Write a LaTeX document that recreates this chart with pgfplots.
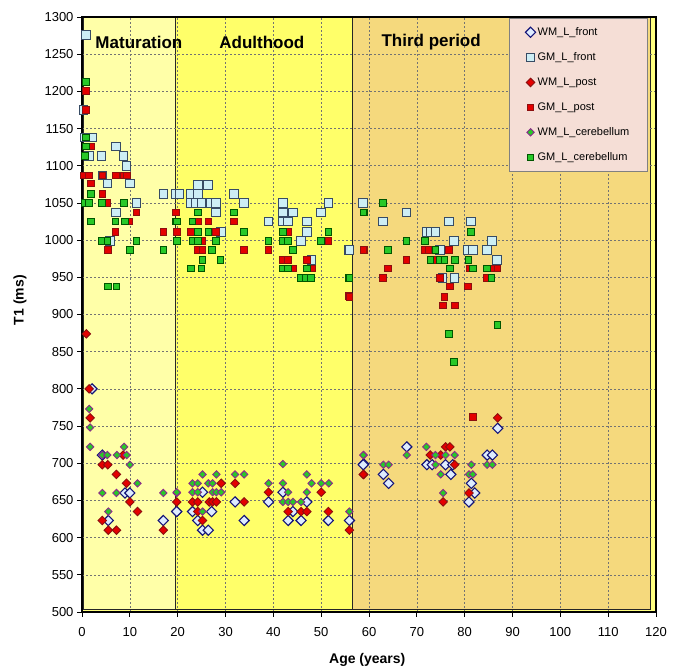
\documentclass[border=0pt]{standalone}
\usepackage{pgfplots}
\pgfplotsset{compat=1.18}
\usepackage{fontspec}
\setmainfont{Liberation Sans}
\definecolor{outerbg}{RGB}{255,255,128}
\definecolor{zoneA}{RGB}{255,255,168}
\definecolor{zoneB}{RGB}{255,255,105}
\definecolor{zoneC}{RGB}{245,217,125}
\definecolor{legpink}{RGB}{245,222,214}
\definecolor{wmfrontfill}{RGB}{222,236,255}
\definecolor{wmfrontedge}{RGB}{20,20,120}
\definecolor{gmfrontfill}{RGB}{205,238,245}
\definecolor{gmfrontedge}{RGB}{55,75,100}
\definecolor{redfill}{RGB}{228,0,0}
\definecolor{rededge}{RGB}{140,15,15}
\definecolor{greenfill}{RGB}{40,200,40}
\definecolor{greenedge}{RGB}{0,85,0}
\definecolor{purpleedge}{RGB}{140,40,140}
\begin{document}
\begin{tikzpicture}
\begin{axis}[name=ax, set layers=standard,
  scale only axis, width=574pt, height=595pt,
  xmin=0, xmax=120, ymin=500, ymax=1300,
  xtick distance=10, ytick distance=50,
  xtick pos=bottom, ytick pos=left,
  tick align=outside, major tick length=5pt,
  every tick/.style={black, line width=0.8pt},
  axis line style={black, line width=1.2pt},
  grid=major,
  major grid style={black!55, line width=0.6pt, dash pattern=on 2pt off 2pt},
  /pgf/number format/assume math mode=true,
  /pgf/number format/set thousands separator={},
  tick label style={font=\fontsize{13}{15}\selectfont},
  xticklabel style={yshift=-7pt},
  xlabel={Age (years)}, ylabel={T1 (ms)},
  every axis x label/.style={at={(axis description cs:0.497,-0.0807)}, anchor=center, font=\fontsize{14}{16}\selectfont\bfseries},
  every axis y label/.style={at={(axis description cs:-0.108,0.524)}, anchor=center, rotate=90, font=\fontsize{14}{16}\selectfont\bfseries},
  legend style={at={(0.744,0.998)}, anchor=north west, fill=legpink, draw=black!50, line width=0.8pt,
    font=\fontsize{11}{13}\selectfont, row sep=11.7pt, inner xsep=16pt, inner ysep=7pt},
  legend cell align=left,
  legend image code/.code={\draw[#1, mark repeat=1] plot coordinates {(0.25cm,0cm)};},
]
\begin{pgfonlayer}{axis background}
\fill[outerbg] (axis cs:0,500) rectangle (axis cs:120,1300);
\filldraw[fill=zoneA, draw=black!85, line width=1pt] (axis cs:0.3,504) rectangle (axis cs:19.6,1300);
\filldraw[fill=zoneB, draw=black!85, line width=1pt] (axis cs:19.6,504) rectangle (axis cs:56.5,1300);
\filldraw[fill=zoneC, draw=black!85, line width=1pt] (axis cs:56.5,504) rectangle (axis cs:118.8,1300);
\end{pgfonlayer}

% WM_L_front
\addplot[only marks, mark=square*, mark size=3.6pt, mark options={rotate=45, fill=wmfrontfill, draw=wmfrontedge, line width=1.1pt}] coordinates {
(2.1,800) (4.25,711) (9.0,660) (10,660) (19.8,635) (5.5,623) (17,623)
(25.2,661) (42,661) (32,648) (39,648) (47,648)
(19.8,635) (23.1,635) (27.1,635) (44.1,635)
(24.2,623) (33.9,623) (43.1,623) (45.8,623) (51.5,623) (55.9,623)
(25.2,610) (26.4,610) (58.9,699)
(86.9,747) (67.9,722) (84.7,711) (85.8,711) (58.8,698) (72.1,698) (73.2,698) (76,698) (77.5,698)
(63,685) (77.1,685) (64.1,673) (81.4,673) (82.1,660) (80.9,648)
};
\addlegendentry{WM\_L\_front}
% GM_L_front
\addplot[only marks, mark=square*, mark size=4.3pt, mark options={fill=gmfrontfill, draw=gmfrontedge, line width=1pt}] coordinates {
(0.8,1276) (0.3,1175) (0.5,1138) (2.1,1138) (7.05,1126) (1.5,1113) (4.1,1113) (8.7,1113) (9.3,1100)
(4.25,1087) (5.3,1076) (10,1076) (17,1062) (19.6,1062) (11.4,1050) (7.05,1037) (5.9,999)
(24.2,1074) (26.4,1074) (20.4,1062) (22.8,1062) (24.2,1062) (31.8,1062)
(22.8,1050) (23.8,1050) (25,1050) (27,1050) (28,1050) (33.9,1050) (42,1050) (51.5,1050)
(28,1037) (42,1037) (44.1,1037) (50,1037) (39,1025) (42,1025) (43.1,1025) (47,1025)
(29,1011) (47,1011) (45.8,999) (55.7,987) (48,973)
(58.8,1050) (67.8,1037) (62.9,1025) (76.7,1025) (81.3,1025) (72,1011) (72.9,1011) (73.9,1011)
(77.8,999) (85.7,999) (55.9,987) (74.8,987) (80.7,987) (81.7,987) (84.7,987) (86.8,973)
(75.4,949) (77.9,949)
};
\addlegendentry{GM\_L\_front}
% WM_L_post
\addplot[only marks, mark=square*, mark size=3.0pt, mark options={rotate=45, fill=redfill, draw=rededge, line width=0.9pt}] coordinates {
(0.9,874) (1.5,800) (1.7,761) (8.6,711) (4.25,698) (5.4,698) (7.2,685) (9.3,673) (10,648) (11.6,635)
(4.25,623) (5.5,610) (7.2,610) (17,610)
(29.1,673) (32,673) (39,661) (50,661) (19.8,648) (23.1,648) (24.2,648) (26.6,648) (27.3,648) (28.1,648)
(33.9,648) (24.2,635) (43.1,635) (45.8,635) (47,635) (51.5,635) (25.2,623) (55.9,610) (58.9,685)
(86.9,761) (76,722) (76.9,722) (72.8,711) (75,711) (77.9,698) (58.8,685) (80.9,660) (75.5,648)
};
\addlegendentry{WM\_L\_post}
% GM_L_post
\addplot[only marks, mark=square*, mark size=3.3pt, mark options={fill=redfill, draw=rededge, line width=0.8pt}] coordinates {
(0.8,1201) (0.8,1175) (2.0,1126) (0.4,1087) (1.5,1087) (4.25,1087) (7.05,1087) (8.8,1087) (9.35,1087)
(1.8,1076) (4.25,1062) (5.3,1050) (11.4,1037) (19.6,1037) (9.8,1025) (7,1011) (17,1011) (19.8,1011) (5.4,987)
(24.2,1025) (26.4,1025) (31.8,1025) (22.8,1011) (27,1011) (28,1011) (43.1,1011)
(25.2,999) (51.5,999) (24.2,987) (25.2,987) (33.9,987) (39,987) (58.9,987)
(42,973) (43.1,973) (47,973) (44.1,962) (48,962) (55.7,925)
(58.8,987) (71.7,987) (72.4,987) (76.7,987) (67.8,973) (73.9,973)
(63.9,962) (81,962) (85.9,962) (86.8,962) (62.9,949) (74.8,949) (84.6,949)
(76.9,938) (80.7,938) (55.9,924) (75.8,924) (75.4,912) (77.9,912) (81.7,762)
};
\addlegendentry{GM\_L\_post}
% WM_L_cerebellum
\addplot[only marks, mark=square*, mark size=2.6pt, mark options={rotate=45, fill=greenfill, draw=purpleedge, line width=0.9pt}] coordinates {
(1.5,773) (1.7,748) (1.7,722) (8.8,722) (4.25,711) (5.3,711) (7.3,711) (9.35,711) (10,698) (11.6,673)
(4.25,660) (7.2,660) (17,660) (19.8,660) (5.5,635)
(58.9,711) (42,699) (25.2,685) (28.1,685) (32,685) (33.9,685) (47,685)
(23.1,673) (24.2,673) (26.4,673) (27.3,673) (39,673) (42,673) (48,673) (50,673) (51.6,673)
(19.8,661) (23.1,661) (24.2,661) (27.3,661) (28.1,661) (29.1,661) (43.1,661) (47,661)
(42,648) (43.1,648) (44.1,648) (45.8,648) (25.2,635) (55.9,635)
(72,722) (58.8,711) (67.9,711) (73.9,711) (76,711) (77.9,711)
(63,698) (64.1,698) (73.9,698) (81.4,698) (84.7,698) (85.8,698)
(75,685) (80.9,685) (81.7,685) (75.5,660)
};
\addlegendentry{WM\_L\_cerebellum}
% GM_L_cerebellum
\addplot[only marks, mark=square*, mark size=3.3pt, mark options={fill=greenfill, draw=greenedge, line width=0.8pt}] coordinates {
(0.8,1213) (0.8,1138) (0.8,1126) (0.6,1113) (1.8,1062) (0.5,1050) (1.5,1050) (4.2,1050) (8.8,1050)
(1.8,1025) (7,1025) (9,1025) (19.6,1025) (4.1,999) (5.3,999) (11.4,999) (19.8,999) (10,987) (17,987)
(5.4,938) (7.2,938)
(24.2,1037) (31.8,1037) (58.9,1037) (19.8,1025) (23.1,1025)
(24.2,1011) (26.4,1011) (33.9,1011) (42,1011) (51.5,1011)
(23.1,999) (24.2,999) (28,999) (39,999) (42,999) (43.1,999) (50,999)
(27.2,987) (44.1,987) (25.2,973) (28.9,973) (22.8,962) (25,962) (42,962) (43.1,962) (47,962)
(45.8,949) (46.8,949) (47.9,949) (55.7,949)
(62.9,1050) (58.8,1037) (81.3,1011) (67.8,999) (71.7,999) (63.9,987) (73.9,987)
(72.8,973) (74.8,973) (75.8,973) (77.9,973) (80.8,973) (76.9,962) (81.7,962) (84.7,962)
(55.9,949) (85.6,949) (86.8,886) (76.7,874) (77.8,836)
};
\addlegendentry{GM\_L\_cerebellum}

\node[font=\bfseries\fontsize{17}{19}\selectfont] at (axis cs:11.9,1266) {Maturation};
\node[font=\bfseries\fontsize{17}{19}\selectfont] at (axis cs:37.6,1266) {Adulthood};
\node[font=\bfseries\fontsize{17}{19}\selectfont] at (axis cs:73.0,1266) {Third period};
\end{axis}
\pgfresetboundingbox
\path ([xshift=-82pt,yshift=-60pt]ax.south west) rectangle ([xshift=25pt,yshift=17pt]ax.north east);
\end{tikzpicture}
\end{document}
